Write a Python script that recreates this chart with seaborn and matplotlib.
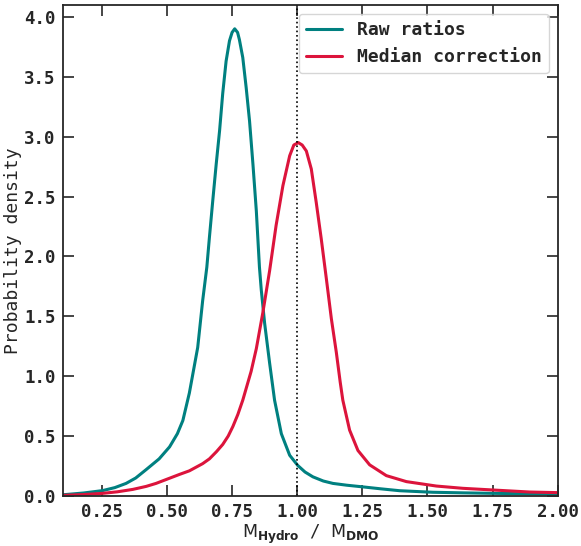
import numpy as np
import pandas as pd
import matplotlib
matplotlib.use("Agg")
import matplotlib.pyplot as plt
import seaborn as sns

# Curve samples (ratio, density)
raw_x = [0.10, 0.18, 0.253, 0.30, 0.343, 0.38, 0.42, 0.47, 0.51, 0.54, 0.561, 0.586, 0.618,
         0.637, 0.653, 0.663, 0.676, 0.689, 0.702, 0.714, 0.727, 0.740, 0.750, 0.760,
         0.771, 0.778, 0.791, 0.804, 0.817, 0.830, 0.843, 0.855, 0.862, 0.875, 0.894,
         0.913, 0.939, 0.971, 1.002, 1.03, 1.06, 1.10, 1.137, 1.19, 1.252, 1.32, 1.393,
         1.521, 1.64, 1.752, 1.88, 2.0]
raw_y = [0.010, 0.025, 0.045, 0.070, 0.105, 0.15, 0.22, 0.31, 0.41, 0.52, 0.63, 0.86, 1.24,
         1.63, 1.91, 2.16, 2.47, 2.77, 3.05, 3.36, 3.63, 3.80, 3.87, 3.90,
         3.87, 3.81, 3.66, 3.41, 3.13, 2.77, 2.38, 1.91, 1.72, 1.44, 1.11,
         0.80, 0.52, 0.34, 0.255, 0.20, 0.16, 0.125, 0.105, 0.09, 0.076, 0.06, 0.044,
         0.031, 0.026, 0.022, 0.019, 0.017]

med_x = [0.10, 0.18, 0.253, 0.31, 0.369, 0.42, 0.458, 0.50, 0.548, 0.586, 0.637, 0.663,
         0.690, 0.714, 0.735, 0.753, 0.772, 0.791, 0.807, 0.823, 0.843, 0.868, 0.894,
         0.919, 0.945, 0.971, 0.987, 1.004, 1.019, 1.035, 1.054, 1.073, 1.092, 1.112,
         1.131, 1.150, 1.165, 1.175, 1.201, 1.233, 1.278, 1.342, 1.419, 1.534, 1.636,
         1.752, 1.893, 2.0]
med_y = [0.005, 0.012, 0.022, 0.035, 0.055, 0.08, 0.105, 0.14, 0.18, 0.21, 0.27, 0.31,
         0.37, 0.43, 0.50, 0.58, 0.68, 0.80, 0.92, 1.04, 1.23, 1.53, 1.88,
         2.26, 2.59, 2.84, 2.93, 2.95, 2.93, 2.88, 2.73, 2.45, 2.15, 1.81,
         1.48, 1.20, 0.95, 0.80, 0.55, 0.38, 0.26, 0.17, 0.12, 0.083, 0.064,
         0.050, 0.033, 0.028]

labels = ["Raw ratios", "Median correction"]
colors = ["#008080", "#DC143C"]

df = pd.concat([
    pd.DataFrame({"ratio": raw_x, "density": raw_y, "series": labels[0]}),
    pd.DataFrame({"ratio": med_x, "density": med_y, "series": labels[1]}),
], ignore_index=True)

sns.set_style("ticks")
plt.rcParams["font.family"] = ["DejaVu Sans Mono", "DejaVu Sans"]

fig = plt.figure(figsize=(5.81, 5.46), dpi=100)
ax = fig.add_axes([0.108, 0.0916, 0.852, 0.8995])

sns.lineplot(data=df, x="ratio", y="density", hue="series", hue_order=labels,
             palette=colors, linewidth=2.2, ax=ax, sort=False)
ax.axvline(1.0, color="black", linestyle=":", linewidth=1.2)

ax.set_xlim(0.1, 2.0)
ax.set_ylim(0, 4.1)
ax.set_xticks([0.25, 0.5, 0.75, 1.0, 1.25, 1.5, 1.75, 2.0])
ax.set_yticks([0, 0.5, 1, 1.5, 2, 2.5, 3, 3.5, 4])
ax.set_xticklabels([f"{v:.2f}" for v in ax.get_xticks()])
ax.set_yticklabels([f"{v:.1f}" for v in ax.get_yticks()])
for lab in ax.get_xticklabels() + ax.get_yticklabels():
    lab.set_fontweight("bold")
    lab.set_fontsize(12.5)
ax.tick_params(direction="in", length=8, width=1.2, top=True, right=True, pad=5)

ax.set_xlabel(r"$\mathrm{M}_{\mathbf{Hydro}}$ / $\mathrm{M}_{\mathbf{DMO}}$", fontsize=12.5, labelpad=1)
ax.set_ylabel("Probability density", fontsize=13)
ax.yaxis.set_label_coords(-0.082, 0.5)

for s in ax.spines.values():
    s.set_linewidth(1.3)

leg = ax.legend(loc="upper right", prop={"family": "DejaVu Sans Mono", "weight": "bold", "size": 13},
                handlelength=2.0, borderaxespad=0.5)
leg.set_title(None)

fig.savefig("out.png", dpi=100)
